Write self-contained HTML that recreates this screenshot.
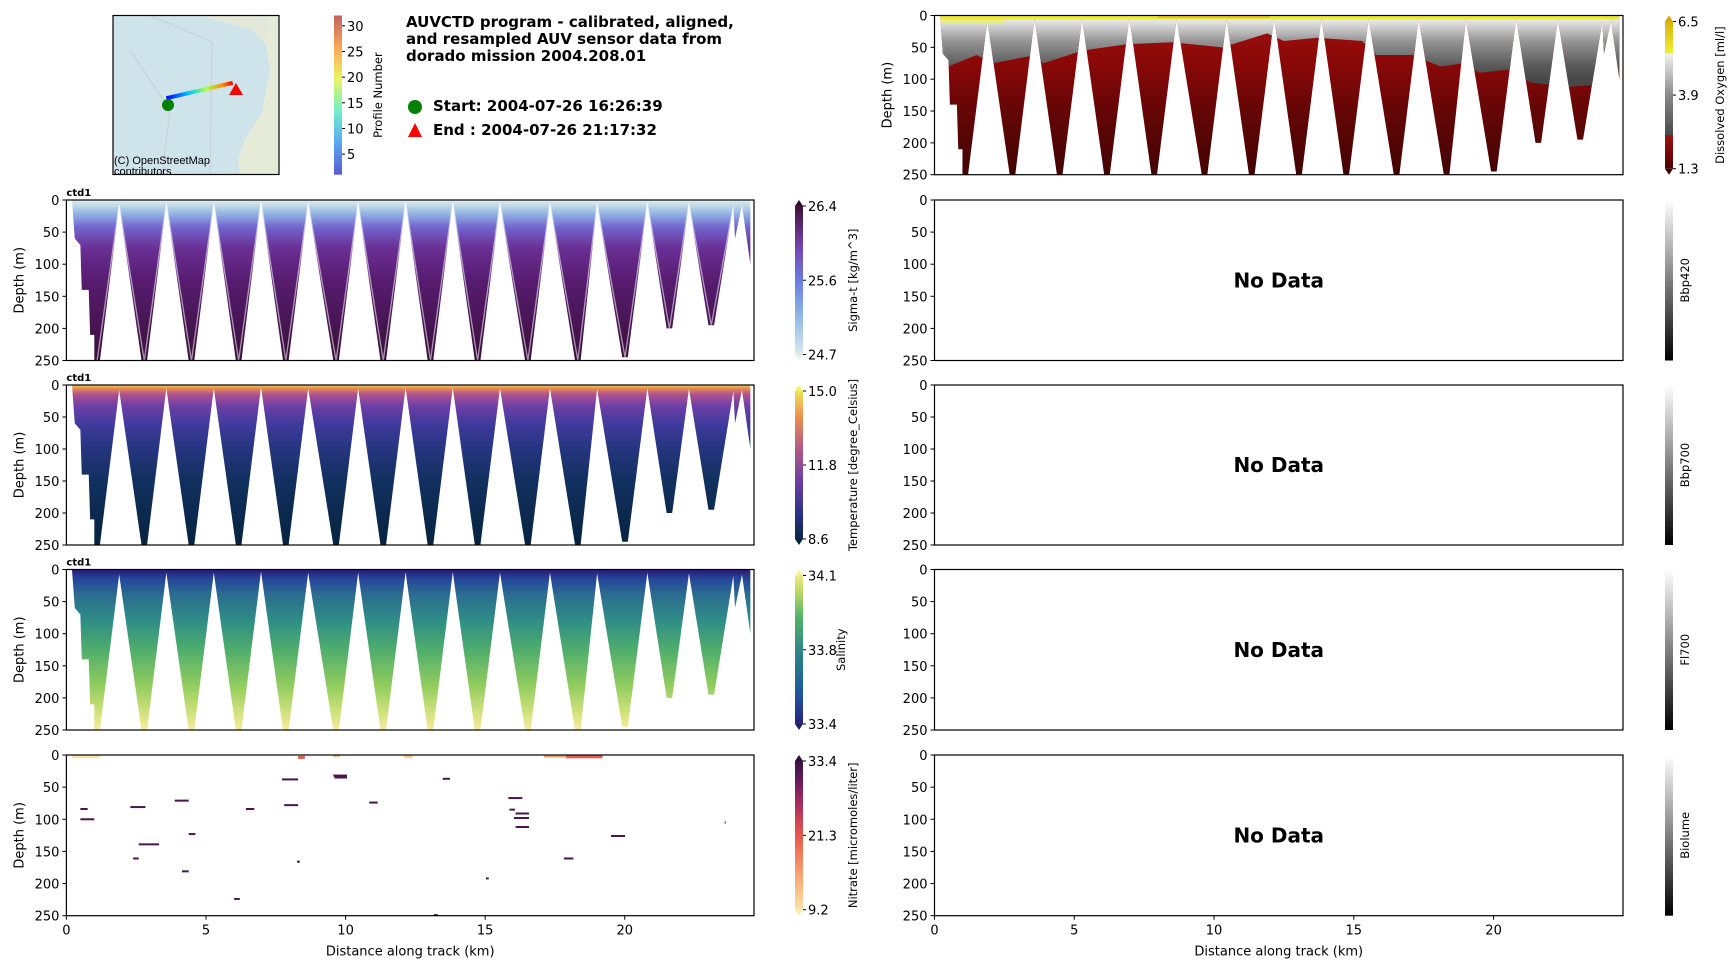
<!DOCTYPE html>
<html><head><meta charset="utf-8"><style>
body{margin:0;background:#fff;}
svg{display:block;font-family:"DejaVu Sans","Liberation Sans",sans-serif;}
.tk{font-size:13px;fill:#000;}
.cond{font-family:"Liberation Sans","DejaVu Sans",sans-serif;}
</style></head><body>
<svg id="fig" width="1733" height="968" viewBox="0 0 1733 968" xmlns="http://www.w3.org/2000/svg">
<defs id="defs"></defs>
<g id="root"></g>
</svg>
<script>
// ---- data ----
const xMaxKm = 24.63;
const depthTicks = [0,50,100,150,200,250];
const kmTicks = [0,5,10,15,20];
const edgeKm = [0.2,0.3,0.5,0.55,0.8,0.85,1.0];
const edgeDepth = [0,60,70,140,140,210,210];
const turnKm = [1.10,1.89,2.79,3.58,4.48,5.28,6.17,6.97,7.86,8.66,9.66,10.45,11.35,12.15,13.04,13.84,14.73,15.53,16.53,17.32,18.32,19.01,20.01,20.81,21.60,22.30,23.10,23.89,23.95,24.2,24.5];
const turnDepth = [250,8,250,5,250,5,250,3,250,5,250,5,250,4,250,4,250,5,250,5,250,6,245,5,200,6,195,10,60,8,100];
const oxyKm = [0,0.5,1.5,2.1,3.5,3.9,5.3,6.9,8.5,10.3,11.9,12.5,13.7,15.3,15.8,17.1,18.1,18.9,19.5,20.5,21.3,22.7,23.3,24.6];
const oxyDepth = [80,80,62,75,63,75,55,45,42,50,28,40,35,40,62,62,80,75,90,85,105,112,110,110];
const nitStart = [0.5,0.5,2.29,2.59,2.39,3.88,4.38,4.14,6.43,6.01,7.72,7.8,8.26,9.56,9.6,10.85,13.48,15.03,13.16,15.83,15.87,16.09,16.03,16.09,17.82,19.51,23.58,8.3,17.1,17.9,0.2,9.56,12.1];
const nitEnd   = [0.76,1.0,2.83,3.32,2.59,4.38,4.62,4.38,6.73,6.21,8.30,8.3,8.36,10.05,10.05,11.15,13.74,15.13,13.3,16.33,16.07,16.57,16.57,16.57,18.16,20.01,23.62,8.54,18.0,19.2,1.2,9.8,12.4];
const nitDepth = [84,100,81,139,161,71,123,181,84,224,38,78,166,32,35,74,37,192,249,67,85,91,98,112,161,126,105,3,1,2,2,0.5,1.5];
const nitValue = [33,33,33,33,33,33,33,33,33,33,33,33,33,33,33,33,33,33,33,33,33,33,33,33,33,33,33,21,15,21,10,13,12];

const NS='http://www.w3.org/2000/svg';
const root=document.getElementById('root');
const defs=document.getElementById('defs');
function mk(tag,attrs,parent){const e=document.createElementNS(NS,tag);for(const k in attrs)e.setAttribute(k,attrs[k]);(parent||root).appendChild(e);return e;}
function txt(s,attrs,parent){const e=mk('text',attrs,parent);e.textContent=s;return e;}

const L={x0:66.4,x1:754}, R={x0:934.5,x1:1623};
const rows=[[15.5,174.7],[200,360.5],[385,545],[569.5,730],[755,915.7]];

function gradient(id,y0,y1,stops){const g=mk('linearGradient',{id:id,gradientUnits:'userSpaceOnUse',x1:0,y1:y0,x2:0,y2:y1},defs);stops.forEach(s=>mk('stop',{offset:s[0],'stop-color':s[1]},g));}

function axes(col,row,opts){
  const y0=rows[row][0],y1=rows[row][1];
  const xs=km=>col.x0+km/xMaxKm*(col.x1-col.x0);
  const ys=d=>y0+d/250*(y1-y0);
  const g=mk('g',{});
  
  
  return {g,xs,ys,y0,y1,col};
}
function frame(a,opts){
  const g=a.g;
  const fr=mk('rect',{x:a.col.x0,y:a.y0,width:a.col.x1-a.col.x0,height:a.y1-a.y0,fill:'none',stroke:'#000','stroke-width':1.2},g);
  
  depthTicks.forEach(d=>{const y=a.ys(d);mk('line',{x1:a.col.x0-4,x2:a.col.x0,y1:y,y2:y,stroke:'#000'},g);
    const t=txt(String(d),{x:a.col.x0-7,y:y+5,'text-anchor':'end',class:'tk'},g);});
  if(!opts.noylabel){
    const yl=txt('Depth (m)',{x:0,y:0,transform:`translate(${a.col.x0-43},${(a.y0+a.y1)/2}) rotate(-90)`,'text-anchor':'middle',class:'tk'},g);
    
  }
  if(opts.xticks){
    kmTicks.forEach(k=>{const x=a.xs(k);mk('line',{x1:x,x2:x,y1:a.y1,y2:a.y1+4,stroke:'#000'},g);
      const t=txt(String(k),{x:x,y:a.y1+19,'text-anchor':'middle',class:'tk'},g);});
    const xl=txt('Distance along track (km)',{x:(a.col.x0+a.col.x1)/2,y:a.y1+40,'text-anchor':'middle',class:'tk'},g);
    
  }
  if(opts.ctd){const c=txt('ctd1',{x:a.col.x0,y:a.y0-4,'font-size':10,'font-weight':'bold'},g);}
  if(opts.nodata){const n=txt('No Data',{x:(a.col.x0+a.col.x1)/2,y:(a.y0+a.y1)/2+7,'text-anchor':'middle','font-size':20,'font-weight':'bold'},g);}
}
function curtainPoints(a){
  const pts=[];
  for(let i=0;i<edgeKm.length;i++)pts.push([a.xs(edgeKm[i]),a.ys(edgeDepth[i])]);
  for(let i=0;i<turnKm.length;i++){
    if(turnDepth[i]>=190){pts.push([a.xs(turnKm[i]-0.1),a.ys(turnDepth[i])]);pts.push([a.xs(turnKm[i]+0.1),a.ys(turnDepth[i])]);}
    else pts.push([a.xs(turnKm[i]),a.ys(turnDepth[i])]);
  }
  pts.push([a.xs(24.5),a.ys(0)]);
  return pts;
}
function curtain(a,id,stops,opts){
  gradient('g'+id,a.ys(0),a.ys(250),stops);
  const pts=curtainPoints(a);
  const cp=mk('clipPath',{id:'c'+id},defs);
  mk('polygon',{points:pts.map(p=>p.join(',')).join(' ')},cp);
  const g=mk('g',{'clip-path':`url(#c${id})`},a.g);
  const r=mk('rect',{x:a.col.x0,y:a.y0,width:a.col.x1-a.col.x0,height:a.y1-a.y0,fill:`url(#g${id})`},g);
  
  if(opts&&opts.track){
    const tp=[];for(let i=0;i<turnKm.length-3;i++)tp.push([a.xs(turnKm[i]),a.ys(turnDepth[i])]);
    const tl=mk('polyline',{points:tp.map(p=>p.join(',')).join(' '),fill:'none',stroke:'#ffffff','stroke-opacity':0.55,'stroke-width':1.3},a.g);
    
  }
  return g;
}
function colorbar(x,y0,y1,id,stops,ticks,label,opts){
  const g=mk('g',{});
  
  gradient('cb'+id,y1,y0,stops);
  const w=8;
  const ext=opts.extend?6:0;
  mk('rect',{x:x,y:y0+ext,width:w,height:y1-y0-2*ext,fill:`url(#cb${id})`},g);
  if(opts.extend){
    mk('polygon',{points:`${x},${y0+ext} ${x+w/2},${y0} ${x+w},${y0+ext}`,fill:stops[stops.length-1][1]},g);
    mk('polygon',{points:`${x},${y1-ext} ${x+w/2},${y1} ${x+w},${y1-ext}`,fill:stops[0][1]},g);
  }
  ticks.forEach(t=>{const y=y1-ext-(t[0])*(y1-y0-2*ext);mk('line',{x1:x+w,x2:x+w+3,y1:y,y2:y,stroke:'#000'},g);
    const tt=txt(t[1],{x:x+w+5,y:y+5,class:'tk'},g);});
  const lx=x+(opts.lx||55);
  const lt=txt(label,{x:0,y:0,transform:`translate(${lx},${(y0+y1)/2}) rotate(-90)`,'text-anchor':'middle','font-size':opts.fs||11.5},g);
  
}

// ---- Map ----
(function(){
  const g=mk('g',{});
  mk('rect',{x:113,y:15.5,width:166,height:159,fill:'#cfe4ea'},g);
  mk('path',{d:'M268,15.5 L279,15.5 L279,174.7 L240,174.7 L238,160 L244,140 L252,128 L262,112 L266,90 L270,70 L266,45 Z',fill:'#e6ead8'},g);
  mk('path',{d:'M200,15.5 L268,15.5 L266,45 L252,30 Z',fill:'#e3e8da'},g);
  mk('path',{d:'M130,50 L170,110 L162,174 M150,15.5 L212,42 L210,174',fill:'none',stroke:'#c6c9d6','stroke-width':0.8},g);
  const grad=mk('linearGradient',{id:'trk',x1:0,y1:0,x2:1,y2:0},defs);
  [['0','#0000ff'],['0.35','#00ccff'],['0.6','#aaff44'],['0.85','#ff8800'],['1','#ff0000']].forEach(s=>mk('stop',{offset:s[0],'stop-color':s[1]},grad));
  mk('rect',{x:168,y:96,width:68,height:4,fill:'url(#trk)',transform:'rotate(-13 168 105)'},g);
  mk('circle',{cx:168,cy:105,r:6,fill:'#008000'},g);
  mk('polygon',{points:'236,83 229,95 243,95',fill:'#ff0000'},g);
  txt('(C) OpenStreetMap',{x:114,y:164,'font-size':11,class:'cond'},g);
  txt('contributors',{x:114,y:175,'font-size':11,class:'cond'},g);
  mk('rect',{x:113,y:15.5,width:166,height:159,fill:'none',stroke:'#000','stroke-width':1.2},g);
})();
colorbar(334,15.5,174.7,'profile',[[0,'#5b5bd6'],[0.2,'#59a8f0'],[0.4,'#6ff0c8'],[0.6,'#e9f562'],[0.8,'#fca756'],[1,'#c46262']],
  [[4/31,'5'],[9/31,'10'],[14/31,'15'],[19/31,'20'],[24/31,'25'],[29/31,'30']],'Profile Number',{lx:48,fs:11.5});
document.querySelectorAll('#root > g:last-child .tk').forEach(e=>e.setAttribute('font-size','10'));
(function(){
  const g=mk('g',{});
  ['AUVCTD program - calibrated, aligned,','and resampled AUV sensor data from','dorado mission 2004.208.01'].forEach((s,i)=>txt(s,{x:406,y:27+i*17,'font-size':15,'font-weight':'bold'},g));
  mk('circle',{cx:415,cy:107,r:7,fill:'#008000'},g);
  txt('Start: 2004-07-26 16:26:39',{x:433,y:111,'font-size':15,'font-weight':'bold'},g);
  mk('polygon',{points:'415,123 408,137 422,137',fill:'#ff0000'},g);
  txt('End  : 2004-07-26 21:17:32',{x:433,y:135,'font-size':15,'font-weight':'bold'},g);
})();

// ---- Sigma-t ----
let a=axes(L,1,{name:'sigma-t-panel'});
curtain(a,'sig',[[0,'#e2efef'],[0.04,'#bcd6e6'],[0.09,'#8fb0e2'],[0.17,'#7265cd'],[0.3,'#6a2f94'],[0.5,'#571c70'],[1,'#3a0f3a']],{track:true});
frame(a,{ctd:true});
colorbar(795,200,360.5,'sig',[[0,'#e6f1f0'],[0.3,'#86b4e2'],[0.5,'#6b7be0'],[0.7,'#7447b0'],[0.88,'#55205f'],[1,'#2f0c22']],[[1,'26.4'],[0.5,'25.6'],[0,'24.7']],'Sigma-t [kg/m^3]',{extend:true,lx:62});
// ---- Temperature ----
a=axes(L,2,{name:'temperature-panel'});
curtain(a,'tmp',[[0,'#f6d84a'],[0.02,'#ec8c50'],[0.06,'#ad5290'],[0.13,'#6d3fa6'],[0.25,'#3e3a9c'],[0.4,'#26357f'],[0.6,'#12305f'],[1,'#062340']]);
frame(a,{ctd:true});
colorbar(795,385,545,'tmp',[[0,'#04233e'],[0.2,'#2b3385'],[0.4,'#6e40a0'],[0.6,'#b05a86'],[0.8,'#ed8e4f'],[1,'#ebf95c']],[[1,'15.0'],[0.5,'11.8'],[0,'8.6']],'Temperature [degree_Celsius]',{extend:true,lx:62});
// ---- Salinity ----
a=axes(L,3,{name:'salinity-panel'});
curtain(a,'sal',[[0,'#2b1a70'],[0.06,'#25479b'],[0.16,'#2b6d8f'],[0.32,'#2f8d86'],[0.5,'#4fad6c'],[0.72,'#90cc5e'],[0.88,'#cde07a'],[1,'#f6ec9a']]);
frame(a,{ctd:true});
colorbar(795,569.5,730,'sal',[[0,'#29186b'],[0.2,'#1e4f9c'],[0.45,'#2b7e8b'],[0.7,'#52b166'],[0.88,'#c7dd67'],[1,'#fdef9a']],[[1,'34.1'],[0.5,'33.8'],[0,'33.4']],'Salinity',{extend:true,lx:50});
// ---- Nitrate ----
a=axes(L,4,{name:'nitrate-panel'});
(function(){
  const cmap=v=>{const t=(v-9.2)/(33.4-9.2);const c=[[0,[253,237,176]],[0.25,[246,165,118]],[0.5,[229,88,76]],[0.7,[168,44,95]],[0.85,[97,28,90]],[1,[47,15,61]]];
    for(let i=1;i<c.length;i++)if(t<=c[i][0]){const f=(t-c[i-1][0])/(c[i][0]-c[i-1][0]);const r=c[i-1][1].map((x,j)=>Math.round(x+(c[i][1][j]-x)*f));return `rgb(${r})`;}return 'rgb(47,15,61)';};
  for(let i=0;i<nitStart.length;i++){
    const r=mk('rect',{x:a.xs(nitStart[i]),y:a.ys(nitDepth[i])-1,width:Math.max(1,a.xs(nitEnd[i])-a.xs(nitStart[i])),height:nitValue[i]<30?3:2,fill:cmap(nitValue[i]===33?31.5:nitValue[i])},a.g);
    
  }
})();
frame(a,{xticks:true});
colorbar(795,755,915.7,'nit',[[0,'#fdedb0'],[0.25,'#f6a576'],[0.5,'#e5584c'],[0.7,'#a82c5f'],[0.85,'#611c5a'],[1,'#2f0f3d']],[[1,'33.4'],[0.5,'21.3'],[0,'9.2']],'Nitrate [micromoles/liter]',{extend:true,lx:62});

// ---- Oxygen ----
a=axes(R,0,{name:'oxygen-panel'});
(function(){
  const g=curtain(a,'oxr',[[0,'#a01010'],[0.3,'#8a0808'],[0.6,'#650606'],[1,'#420303']]);
  gradient('oxg',a.ys(0),a.ys(100),[[0,'#f2f2f2'],[0.12,'#dedede'],[0.4,'#959595'],[0.8,'#585858'],[1,'#484848']]);
  const pts=[[a.xs(0),a.ys(0)]];
  for(let i=0;i<oxyKm.length;i++)pts.push([a.xs(oxyKm[i]),a.ys(oxyDepth[i])]);
  pts.push([a.xs(xMaxKm),a.ys(0)]);
  const gp=mk('polygon',{points:pts.map(p=>p.join(',')).join(' '),fill:'url(#oxg)'},g);
  
  const yb=mk('rect',{x:a.col.x0,y:a.ys(0),width:a.col.x1-a.col.x0,height:a.ys(6)-a.ys(0),fill:'#ebe83a'},g);
  
  mk('rect',{x:a.col.x0,y:a.ys(6),width:a.xs(2.5)-a.col.x0,height:a.ys(12)-a.ys(6),fill:'#eeee60','opacity':0.7},g);
  mk('rect',{x:a.xs(8),y:a.ys(0),width:a.xs(12)-a.xs(8),height:a.ys(4)-a.ys(0),fill:'#d8b020','opacity':0.6},g);
})();
frame(a,{});
colorbar(1665,15.5,174.7,'oxy',[[0,'#3a0303'],[0.25,'#a01010'],[0.2501,'#4a4a4a'],[0.5,'#8a8a8a'],[0.76,'#f2f2f2'],[0.7601,'#eef03a'],[1,'#d6a800']],[[1,'6.5'],[0.5,'3.9'],[0,'1.3']],'Dissolved Oxygen [ml/l]',{extend:true,lx:59});
// ---- Empty panels ----
const emptyNames=['Bbp420','Bbp700','Fl700','Biolume'];
for(let r=1;r<=4;r++){
  a=axes(R,r,{name:emptyNames[r-1].toLowerCase()+'-panel'});
  frame(a,{nodata:true,xticks:r===4,noylabel:true});
  colorbar(1665,rows[r][0],rows[r][1],emptyNames[r-1],[[0,'#000000'],[1,'#ffffff']],[],emptyNames[r-1],{lx:24});
}
</script>
</body></html>
